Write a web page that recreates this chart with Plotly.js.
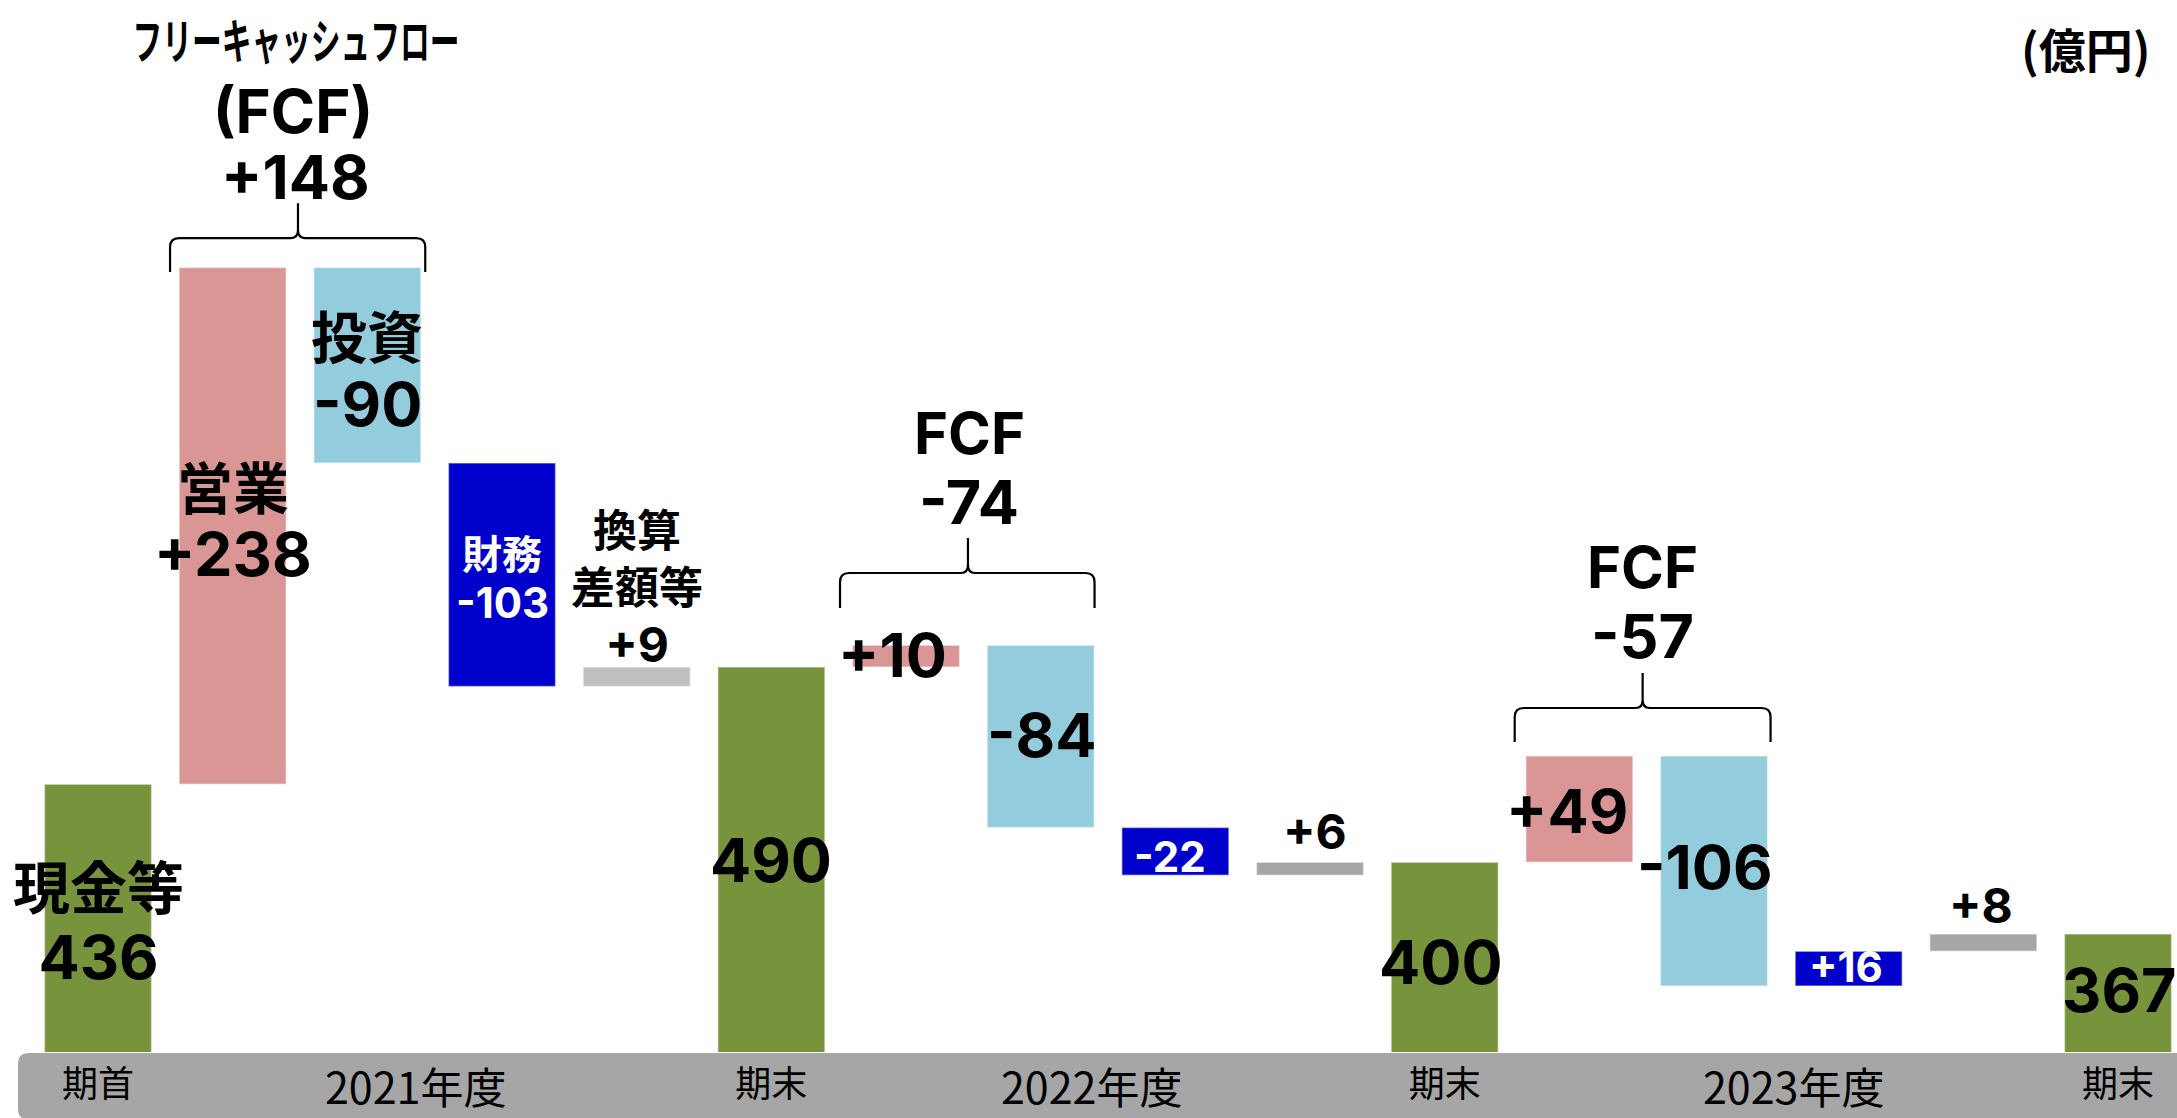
<!DOCTYPE html>
<html>
<head>
<meta charset="utf-8">
<script src="https://cdn.plot.ly/plotly-3.0.1.min.js"></script>
<style>
  html, body { margin: 0; padding: 0; background: #ffffff; }
  #chart { width: 2177px; height: 1118px; }
</style>
</head>
<body>
<div id="chart"></div>
<script>
// ---------------- DATA ----------------
const kinds = ['total', 'op', 'inv', 'fin', 'fx', 'total', 'op', 'inv', 'fin', 'fx', 'total', 'op', 'inv', 'fin', 'fx', 'total'];
const values = [436, 238, -90, -103, 9, 490, 10, -84, -22, 6, 400, 49, -106, 16, 8, 367];
const periodLabels = ['期首', '期末', '期末', '期末'];
const yearLabels = ['2021年度', '2022年度', '2023年度'];
const fcfValues = [148, -74, -57];
const cashLabel = '現金等';
const stepNames = ['営業', '投資', '財務', '換算差額等'];
const fcfLongName = 'フリーキャッシュフロー';
const fcfShortName = 'FCF';
const unitLabel = '(億円)';

// ---------------- GEOMETRY / STYLE ----------------
const W = 2177, H = 1118, MB = 66;
const XR = [-0.7277, 15.438];
const YR = [312.6, 797.3];
const PXX = W / (XR[1] - XR[0]);          // px per category unit
const PXY = (H - MB) / (YR[1] - YR[0]);   // px per value unit

const kindColor = { total: '#77933C', op: '#D99694', inv: '#93CDDD', fin: '#0000CC', fx: '#A6A6A6' };
const NUM_FONT = 'Inter, "Noto Sans CJK JP", sans-serif';
const CJK_FONT = '"Noto Sans CJK JP", sans-serif';

// waterfall geometry from data
const xs = [], bases = [], heights = [], colors = [];
let running = 0;
values.forEach((v, i) => {
  xs.push(i);
  if (kinds[i] === 'total') {
    bases.push(0); heights.push(v); running = v;
  } else {
    const next = running + v;
    bases.push(Math.min(running, next));
    heights.push(Math.abs(v));
    running = next;
  }
  colors.push(kindColor[kinds[i]]);
});
colors[4] = '#BFBFBF';

const fmt = v => (v > 0 ? '+' : v < 0 ? '-' : '') + Math.abs(v);
const sized = (t, s, fam) => '<span style="font-size:' + s + 'px' + (fam ? ';font-family:' + fam : '') + '">' + t + '</span>';

// label placements (category units, value units, font size, color); null = drawn with its name
const valuePlace = [
  null, [1, 542.0, 61, '#000'], [2, 611.1, 61, '#000'], [3, 519.9, 42, '#fff'],
  null, [5, 401.1, 61, '#000'], [5.90, 495.5, 61, '#000'], [7.01, 458.7, 61, '#000'],
  [7.96, 402.9, 42, '#fff'], [9.04, 414.0, 48, '#000'], [9.97, 354.1, 61, '#000'], [10.91, 423.6, 61, '#000'],
  [11.93, 397.8, 61, '#000'], [12.98, 351.8, 42, '#fff'], [13.98, 380.3, 48, '#000'], [15.01, 341.2, 61, '#000']
];

const annotations = [];
function addText(text, x, y, size, color, family, extra) {
  annotations.push(Object.assign({
    text: text, x: x, y: y, xref: 'x', yref: 'y', showarrow: false,
    xanchor: 'center', yanchor: 'middle',
    font: { family: family, size: size, color: color, weight: 700 }
  }, extra || {}));
}

values.forEach((v, i) => {
  const p = valuePlace[i];
  if (!p) return;
  addText(kinds[i] === 'total' ? String(v) : fmt(v), p[0], p[1], p[2], p[3], NUM_FONT);
});

// name labels
addText(sized(cashLabel, 57) + '<br>' + sized(String(values[0]), 61), 0, 371.6, 54, '#000', NUM_FONT);
addText(stepNames[0], 1, 574.3, 56, '#000', CJK_FONT);
addText(stepNames[1], 2, 643.8, 56, '#000', CJK_FONT);
addText(stepNames[2], 3, 543.0, 40, '#fff', CJK_FONT);
addText(sized(stepNames[3].slice(0, 2), 44) + '<br>' + sized(stepNames[3].slice(2), 44) + '<br>' + sized(fmt(values[4]), 48),
  4, 526.0, 44.2, '#000', NUM_FONT);

// FCF labels
addText(fcfLongName, 1.47, 779.7, 48, '#000', CJK_FONT, { name: 'fcflong' });
addText('(' + fcfShortName + ')', 1.45, 746.1, 60, '#000', NUM_FONT);
addText(fmt(fcfValues[0]), 1.47, 715.7, 61, '#000', NUM_FONT);
addText(fcfShortName, 6.475, 597.8, 58, '#000', NUM_FONT);
addText(fmt(fcfValues[1]), 6.47, 566.0, 61, '#000', NUM_FONT);
addText(fcfShortName, 11.47, 536.0, 58, '#000', NUM_FONT);
addText(fmt(fcfValues[2]), 11.47, 504.3, 61, '#000', NUM_FONT);

// unit
annotations.push({
  text: unitLabel, x: 2153 / W, y: 1 - 48 / (H - MB), xref: 'paper', yref: 'paper',
  xanchor: 'right', yanchor: 'middle', showarrow: false,
  font: { family: CJK_FONT, size: 47, color: '#000', weight: 700 }
});

// year labels in grey band
const yearPos = [2.36, 7.38, 12.59];
yearLabels.forEach((t, k) => {
  annotations.push({
    text: t, x: yearPos[k], y: -(1085 - (H - MB)) / (H - MB), xref: 'x', yref: 'paper',
    xanchor: 'center', yanchor: 'middle', showarrow: false,
    font: { family: CJK_FONT, size: 43, color: '#000' }
  });
});

// braces
function bracePath(xL, xR, xT, yLeg, yBar, yTip) {
  const rx = 9 / PXX, ry = 9 / PXY, cx = 7 / PXX, cy = 8 / PXY;
  const f = n => n.toFixed(4);
  return 'M' + f(xL) + ',' + f(yLeg) +
    ' L' + f(xL) + ',' + f(yBar - ry) +
    ' Q' + f(xL) + ',' + f(yBar) + ' ' + f(xL + rx) + ',' + f(yBar) +
    ' L' + f(xT - cx) + ',' + f(yBar) +
    ' Q' + f(xT) + ',' + f(yBar) + ' ' + f(xT) + ',' + f(yBar + cy) +
    ' L' + f(xT) + ',' + f(yTip) +
    ' M' + f(xT) + ',' + f(yBar + cy) +
    ' Q' + f(xT) + ',' + f(yBar) + ' ' + f(xT + cx) + ',' + f(yBar) +
    ' L' + f(xR - rx) + ',' + f(yBar) +
    ' Q' + f(xR) + ',' + f(yBar) + ' ' + f(xR) + ',' + f(yBar - ry) +
    ' L' + f(xR) + ',' + f(yLeg);
}
const braces = [
  [0.535, 2.43, 1.485, 672.0, 687.6, 703.7],
  [5.51, 7.40, 6.46, 517.2, 533.3, 549.4],
  [10.52, 12.42, 11.47, 455.4, 471.1, 487.2]
];
const shapes = braces.map(b => ({
  type: 'path', xref: 'x', yref: 'y', path: bracePath(...b),
  line: { color: '#000', width: 2.2 }, fillcolor: 'rgba(0,0,0,0)'
}));

// grey category band
(function () {
  const x0 = 18 / W, x1 = 1.02, yT = -1 / (H - MB), yB = -(MB + 2) / (H - MB);
  const rx = 11 / W, ry = 11 / (H - MB);
  shapes.push({
    type: 'path', xref: 'paper', yref: 'paper', layer: 'below',
    path: 'M' + x1 + ',' + yT + ' L' + (x0 + rx) + ',' + yT + ' Q' + x0 + ',' + yT + ' ' + x0 + ',' + (yT - ry) +
      ' L' + x0 + ',' + (yB + ry) + ' Q' + x0 + ',' + yB + ' ' + (x0 + rx) + ',' + yB + ' L' + x1 + ',' + yB + ' Z',
    fillcolor: '#A6A6A6', line: { width: 0 }
  });
})();

const trace = {
  type: 'bar', x: xs, y: heights, base: bases, width: 0.795,
  marker: { color: colors, line: { color: 'rgba(255,255,255,0.45)', width: 1.5 } },
  hoverinfo: 'skip', textposition: 'none'
};

const layout = {
  width: W, height: H,
  margin: { l: 0, r: 0, t: 0, b: MB, pad: 0 },
  paper_bgcolor: '#ffffff', plot_bgcolor: '#ffffff',
  showlegend: false,
  xaxis: {
    range: XR, showgrid: false, zeroline: false, showline: false, ticks: '',
    tickvals: [0, 5, 10, 15], ticktext: periodLabels, ticklabelstandoff: 8,
    tickfont: { family: CJK_FONT, size: 36, color: '#000' }, fixedrange: true
  },
  yaxis: { range: YR, visible: false, fixedrange: true },
  shapes: shapes,
  annotations: annotations
};

Plotly.newPlot('chart', [trace], layout, { displayModeBar: false, staticPlot: true }).then(() => {
  document.querySelectorAll('.annotation-text').forEach(el => {
    if (el.textContent === fcfLongName) {
      el.style.transformBox = 'fill-box';
      el.style.transformOrigin = 'center';
      el.style.transform = 'scale(0.62, 1)';
    }
  });
});
</script>
</body>
</html>
